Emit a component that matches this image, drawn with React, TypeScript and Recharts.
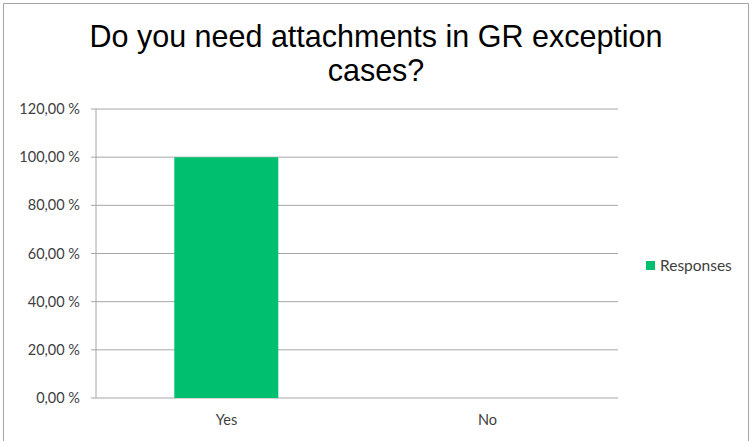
import React from 'react';
import { BarChart, Bar, XAxis, YAxis, CartesianGrid } from 'recharts';

const answers = ['Yes', 'No'];
const responses = [100, 0];
const yTicks = [0, 20, 40, 60, 80, 100, 120];
const slotTicks = [0, 1, 2];

const chartTitle = ['Do you need attachments in GR exception', 'cases?'];
const seriesName = 'Responses';
const barColor = '#00BF6F';
const gridColor = '#a6a6a6';
const labelFont = 'Lato, sans-serif';

const W = 752;
const H = 441;

const data = answers.map((a, i) => ({ answer: a, slot: i + 0.5, value: responses[i] }));

const fmtPct = (v: number) => `${v.toFixed(2).replace('.', ',')} %`;

const App: React.FC = () => {
  return (
    <div style={{ position: 'absolute', left: 0, top: 0, width: W, height: H, background: '#fff', overflow: 'hidden' }}>
      {/* outer frame */}
      <div style={{ position: 'absolute', left: 3, top: 3, width: 746, height: H, border: '1px solid #a6a6a6', boxSizing: 'border-box' }} />

      {/* title */}
      <div
        style={{
          position: 'absolute',
          left: 0,
          top: 19,
          width: W,
          textAlign: 'center',
          fontFamily: "'Liberation Sans', Arial, sans-serif",
          fontSize: 30.5,
          lineHeight: '34px',
          color: '#000',
        }}
      >
        {chartTitle.map((t) => (
          <div key={t}>{t}</div>
        ))}
      </div>

      <div style={{ position: 'absolute', left: 0, top: 0 }}>
        <BarChart
          width={W}
          height={H}
          data={data}
          margin={{ top: 109, right: 134, bottom: 13, left: 6 }}
          barCategoryGap="30%"
        >
          <CartesianGrid horizontal vertical={false} stroke={gridColor} />
          {/* tick marks on the category boundaries */}
          <XAxis
            xAxisId="slots"
            type="number"
            dataKey="slot"
            domain={[0, 2]}
            ticks={slotTicks}
            height={0}
            tick={false}
            tickSize={5}
            axisLine={{ stroke: gridColor }}
            tickLine={{ stroke: gridColor }}
          />
          <XAxis
            xAxisId="cats"
            dataKey="answer"
            axisLine={false}
            tickLine={false}
            tickSize={0}
            tickMargin={17}
            height={30}
            tick={{ fontFamily: labelFont, fontSize: 14.5, fill: '#404040' }}
          />
          <YAxis
            domain={[0, 120]}
            ticks={yTicks}
            tickFormatter={fmtPct}
            width={90}
            tickSize={5}
            tickMargin={11}
            axisLine={{ stroke: gridColor }}
            tickLine={{ stroke: gridColor }}
            tick={{ fontFamily: labelFont, fontSize: 14.5, fill: '#404040' }}
          />
          <Bar xAxisId="cats" dataKey="value" name={seriesName} fill={barColor} isAnimationActive={false} />
        </BarChart>
      </div>

      {/* legend */}
      <div
        style={{
          position: 'absolute',
          left: 646,
          top: 256,
          display: 'flex',
          alignItems: 'center',
          fontFamily: labelFont,
          fontSize: 15.5,
          color: '#404040',
        }}
      >
        <span style={{ display: 'inline-block', width: 9, height: 9, background: barColor, marginRight: 5 }} />
        {seriesName}
      </div>
    </div>
  );
};

export default App;
